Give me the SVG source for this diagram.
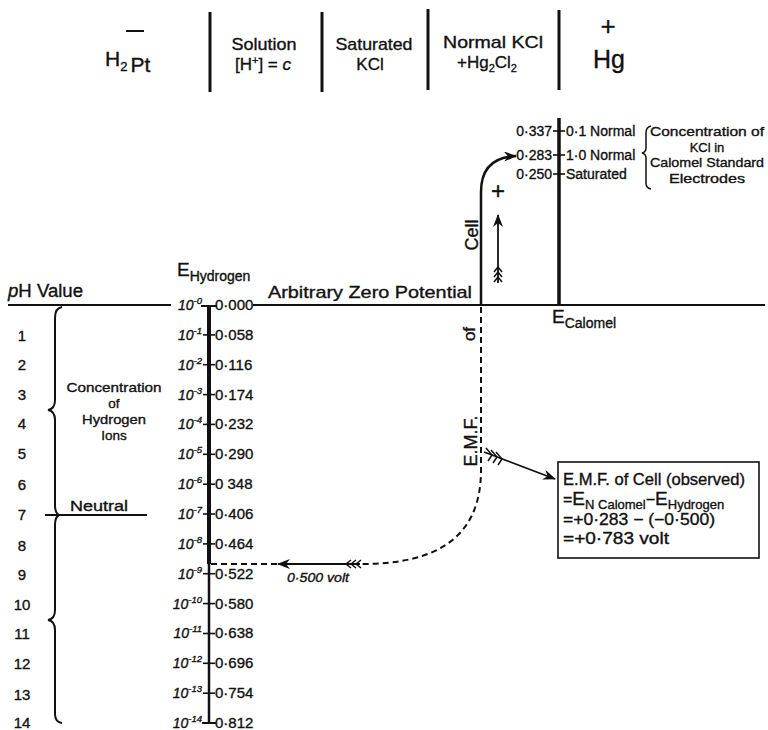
<svg xmlns="http://www.w3.org/2000/svg" width="768" height="730" viewBox="0 0 768 730">
<defs>
<style>
text{font-family:"Liberation Sans",Arial,sans-serif;fill:#111;stroke:#111;stroke-width:0.35}
.ln{stroke:#111;fill:none}
.dash{stroke:#111;fill:none;stroke-width:2;stroke-dasharray:6,4}
.fl{stroke:#111;fill:none;stroke-width:1.5}
.v{font-size:15px}
.p{font-size:15px;text-anchor:middle}
.e{font-size:14px;text-anchor:end;font-style:italic}
.sup{font-size:9.5px}
</style>
<marker id="ah" markerUnits="userSpaceOnUse" markerWidth="14" markerHeight="10" refX="12" refY="5" orient="auto">
<path d="M0,0 L13,5 L0,10 L4,5 z" fill="#111"/>
</marker>
</defs>
<rect width="768" height="730" fill="#fff"/>

<g id="header">
<line class="ln" x1="126" y1="31" x2="144" y2="31" stroke-width="2"/>
<text x="105" y="66" font-size="21">H<tspan font-size="13" dy="5">2</tspan><tspan font-size="21" dx="3" dy="1">Pt</tspan></text>
<line class="ln" x1="210" y1="12" x2="210" y2="92" stroke-width="3"/>
<text x="264" y="50" font-size="17" text-anchor="middle" textLength="65" lengthAdjust="spacingAndGlyphs">Solution</text>
<text x="263" y="70" font-size="17" text-anchor="middle">[H<tspan font-size="11" dy="-6">+</tspan><tspan dy="6">] = </tspan><tspan font-style="italic">c</tspan></text>
<line class="ln" x1="322" y1="12" x2="322" y2="92" stroke-width="3"/>
<text x="374" y="50" font-size="17" text-anchor="middle" textLength="77" lengthAdjust="spacingAndGlyphs">Saturated</text>
<text x="370" y="70" font-size="17" text-anchor="middle">KCl</text>
<line class="ln" x1="428" y1="9" x2="428" y2="90" stroke-width="3"/>
<text x="493" y="48" font-size="17" text-anchor="middle" textLength="100" lengthAdjust="spacingAndGlyphs">Normal KCl</text>
<text x="487" y="68" font-size="17" text-anchor="middle">+Hg<tspan font-size="11" dy="4">2</tspan><tspan dy="-4">Cl</tspan><tspan font-size="11" dy="4">2</tspan></text>
<line class="ln" x1="559" y1="10" x2="559" y2="90" stroke-width="3"/>
<text x="608" y="35" font-size="26" text-anchor="middle">+</text>
<text x="609" y="68" font-size="25" text-anchor="middle">Hg</text>
</g>

<g id="baseline">
<line class="ln" x1="8" y1="305" x2="171" y2="305" stroke-width="2"/>
<line class="ln" x1="253" y1="305" x2="765" y2="305" stroke-width="2"/>
<text x="8" y="297" font-size="18" textLength="75" lengthAdjust="spacingAndGlyphs"><tspan font-style="italic">p</tspan>H Value</text>
<text x="268" y="298" font-size="17" textLength="204" lengthAdjust="spacingAndGlyphs">Arbitrary Zero Potential</text>
</g>

<g id="hydrogen-scale">
<text x="177" y="276" font-size="19">E<tspan font-size="14" dy="5">Hydrogen</tspan></text>
<line class="ln" x1="209" y1="305" x2="209" y2="564" stroke-width="4"/>
<line class="ln" x1="209" y1="564" x2="209" y2="723" stroke-width="2.5"/>
<line class="ln" x1="201" y1="306" x2="217" y2="306" stroke-width="2"/>
<g class="ln" stroke-width="1.6">
<line x1="203" y1="334.9" x2="215" y2="334.9"/>
<line x1="203" y1="364.7" x2="215" y2="364.7"/>
<line x1="203" y1="394.6" x2="215" y2="394.6"/>
<line x1="203" y1="424.4" x2="215" y2="424.4"/>
<line x1="203" y1="454.3" x2="215" y2="454.3"/>
<line x1="203" y1="484.2" x2="215" y2="484.2"/>
<line x1="203" y1="514" x2="215" y2="514"/>
<line x1="203" y1="543.9" x2="215" y2="543.9"/>
<line x1="203" y1="573.7" x2="215" y2="573.7"/>
<line x1="203" y1="603.6" x2="215" y2="603.6"/>
<line x1="203" y1="633.5" x2="215" y2="633.5"/>
<line x1="203" y1="663.3" x2="215" y2="663.3"/>
<line x1="203" y1="693.2" x2="215" y2="693.2"/>
<line x1="202" y1="723" x2="216" y2="723" stroke-width="2"/>
</g>
<text class="e" x="202" y="310">10<tspan class="sup" dy="-6">-0</tspan></text>
<text class="e" x="202" y="340">10<tspan class="sup" dy="-6">-1</tspan></text>
<text class="e" x="202" y="370">10<tspan class="sup" dy="-6">-2</tspan></text>
<text class="e" x="202" y="400">10<tspan class="sup" dy="-6">-3</tspan></text>
<text class="e" x="202" y="429">10<tspan class="sup" dy="-6">-4</tspan></text>
<text class="e" x="202" y="459">10<tspan class="sup" dy="-6">-5</tspan></text>
<text class="e" x="202" y="489">10<tspan class="sup" dy="-6">-6</tspan></text>
<text class="e" x="202" y="519">10<tspan class="sup" dy="-6">-7</tspan></text>
<text class="e" x="202" y="549">10<tspan class="sup" dy="-6">-8</tspan></text>
<text class="e" x="202" y="579">10<tspan class="sup" dy="-6">-9</tspan></text>
<text class="e" x="202" y="609">10<tspan class="sup" dy="-6">-10</tspan></text>
<text class="e" x="202" y="638">10<tspan class="sup" dy="-6">-11</tspan></text>
<text class="e" x="202" y="668">10<tspan class="sup" dy="-6">-12</tspan></text>
<text class="e" x="202" y="698">10<tspan class="sup" dy="-6">-13</tspan></text>
<text class="e" x="202" y="728">10<tspan class="sup" dy="-6">-14</tspan></text>
<text class="v" x="215" y="310">0·000</text>
<text class="v" x="215" y="340">0·058</text>
<text class="v" x="215" y="370">0·116</text>
<text class="v" x="215" y="400">0·174</text>
<text class="v" x="215" y="429">0·232</text>
<text class="v" x="215" y="459">0·290</text>
<text class="v" x="215" y="489">0 348</text>
<text class="v" x="215" y="519">0·406</text>
<text class="v" x="215" y="549">0·464</text>
<text class="v" x="215" y="579">0·522</text>
<text class="v" x="215" y="609">0·580</text>
<text class="v" x="215" y="638">0·638</text>
<text class="v" x="215" y="668">0·696</text>
<text class="v" x="215" y="698">0·754</text>
<text class="v" x="215" y="728">0·812</text>
</g>

<g id="ph-scale">
<text class="p" x="22" y="341">1</text>
<text class="p" x="22" y="370">2</text>
<text class="p" x="22" y="400">3</text>
<text class="p" x="22" y="429">4</text>
<text class="p" x="22" y="459">5</text>
<text class="p" x="22" y="490">6</text>
<text class="p" x="22" y="520">7</text>
<text class="p" x="22" y="551">8</text>
<text class="p" x="22" y="580">9</text>
<text class="p" x="22" y="610">10</text>
<text class="p" x="22" y="639">11</text>
<text class="p" x="22" y="669">12</text>
<text class="p" x="22" y="700">13</text>
<text class="p" x="22" y="728">14</text>
<path class="ln" stroke-width="2" d="M62,307 Q55,308 55,318 L55,400 Q55,409 48,410 Q55,411 55,420 L55,505 Q55,513 59,515 Q55,517 55,525 L55,610 Q55,619 48,620 Q55,621 55,630 L55,714 Q55,722 62,723"/>
<line class="ln" x1="45" y1="515" x2="147" y2="515" stroke-width="2"/>
<text x="70" y="511" font-size="15" textLength="58" lengthAdjust="spacingAndGlyphs">Neutral</text>
<g font-size="13.5" text-anchor="middle">
<text x="114" y="392" textLength="95" lengthAdjust="spacingAndGlyphs">Concentration</text>
<text x="114" y="408">of</text>
<text x="114" y="424" textLength="64" lengthAdjust="spacingAndGlyphs">Hydrogen</text>
<text x="114" y="440">Ions</text>
</g>
</g>

<g id="calomel-scale">
<line class="ln" x1="559" y1="118" x2="559" y2="305" stroke-width="3.5"/>
<g class="ln" stroke-width="1.6">
<line x1="553" y1="131" x2="565" y2="131"/>
<line x1="553" y1="155" x2="565" y2="155"/>
<line x1="553" y1="174" x2="565" y2="174"/>
</g>
<g font-size="14" text-anchor="end">
<text x="552" y="136">0·337</text>
<text x="552" y="160">0·283</text>
<text x="552" y="179">0·250</text>
</g>
<g font-size="14">
<text x="566" y="136">0·1 Normal</text>
<text x="566" y="160">1·0 Normal</text>
<text x="566" y="179">Saturated</text>
</g>
<path class="ln" stroke-width="1.5" d="M651,126 Q646,127 646,133 L646,148 Q646,152 642,153 Q646,154 646,158 L646,183 Q646,188 651,189"/>
<g font-size="13" text-anchor="middle">
<text x="707" y="136" textLength="114" lengthAdjust="spacingAndGlyphs">Concentration of</text>
<text x="707" y="151.5">KCl in</text>
<text x="707" y="167" textLength="114" lengthAdjust="spacingAndGlyphs">Calomel Standard</text>
<text x="707" y="182.5" textLength="76" lengthAdjust="spacingAndGlyphs">Electrodes</text>
</g>
<text x="552" y="323" font-size="19">E<tspan font-size="14" dy="5">Calomel</tspan></text>
</g>

<g id="connectors">
<path class="ln" stroke-width="2.5" d="M481,305 L481,192 C481,168 494,157 516,156" marker-end="url(#ah)"/>
<text x="498" y="199" font-size="24" text-anchor="middle">+</text>
<line class="ln" stroke-width="1.8" x1="498" y1="283" x2="498" y2="215" marker-end="url(#ah)"/>
<path class="fl" d="M494,272 L498,267 L502,272 M494,277 L498,272 L502,277 M494,282 L498,277 L502,282"/>
<path class="dash" d="M481,307 L481,470 C481,535 440,564 362,564"/>
<line class="dash" x1="277" y1="564" x2="211" y2="564"/>
<line class="ln" stroke-width="2" x1="360" y1="564" x2="278" y2="564" marker-end="url(#ah)"/>
<path class="fl" d="M351,560 L346,564 L351,568 M356,560 L351,564 L356,568 M361,560 L356,564 L361,568"/>
<text x="287" y="582" font-size="12.5" font-style="italic" textLength="62" lengthAdjust="spacingAndGlyphs">0·500 volt</text>
<line class="ln" stroke-width="1.8" x1="484" y1="452" x2="555" y2="479" marker-end="url(#ah)"/>
<path class="fl" d="M486,448 L492,455 L488,461 M491,450 L497,457 L493,463 M496,452 L502,459 L498,465"/>
<text transform="translate(477,441) rotate(-90)" font-size="18" text-anchor="middle">E.M.F.</text>
<text transform="translate(475,334) rotate(-90)" font-size="17" text-anchor="middle">of</text>
<text transform="translate(478,235) rotate(-90)" font-size="18" text-anchor="middle">Cell</text>
</g>

<g id="result-box">
<rect x="558" y="462" width="201" height="96" fill="#fff" stroke="#111" stroke-width="1.6"/>
<text x="563" y="485" font-size="16" textLength="182" lengthAdjust="spacingAndGlyphs">E.M.F. of Cell (observed)</text>
<text x="563" y="505" font-size="16">=<tspan font-size="19">E</tspan><tspan font-size="13" dy="4">N Calomel</tspan><tspan dy="-4" font-size="16">−</tspan><tspan font-size="19">E</tspan><tspan font-size="13" dy="4">Hydrogen</tspan></text>
<text x="563" y="525" font-size="16" textLength="152" lengthAdjust="spacingAndGlyphs">=+0·283 − (−0·500)</text>
<text x="563" y="544" font-size="16" textLength="106" lengthAdjust="spacingAndGlyphs">=+0·783 volt</text>
</g>
</svg>
